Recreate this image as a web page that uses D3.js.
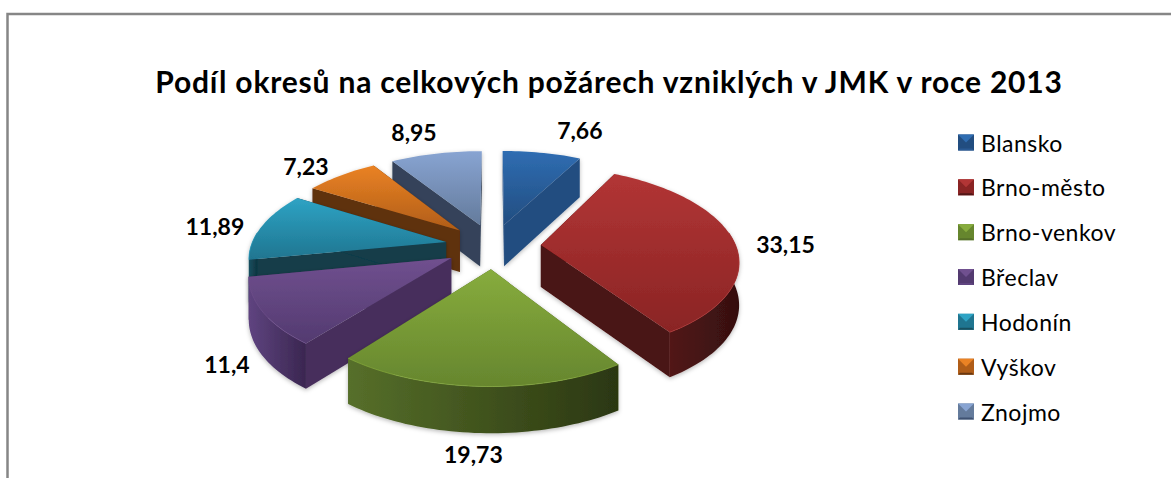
<!DOCTYPE html>
<html><head><meta charset="utf-8">
<script src="https://cdn.jsdelivr.net/npm/d3@7"></script>
<style>html,body{margin:0;padding:0;background:#fff;overflow:hidden}svg{display:block}text{font-family:Lato,Carlito,sans-serif;fill:#000}</style>
</head><body><svg id="c" width="1171" height="478"></svg>
<script>
const categories = ["Blansko","Brno-město","Brno-venkov","Břeclav","Hodonín","Vyškov","Znojmo"];
const values = [7.66,33.15,19.73,11.4,11.89,7.23,8.95];
const valueLabels = ["7,66","33,15","19,73","11,4","11,89","7,23","8,95"];
const titleText = "Podíl okresů na celkových požárech vzniklých v JMK v roce 2013";
const topLight = ["#2f6db2","#b23535","#87ac3d","#70508f","#2ea3c4","#ea8224","#88a4d2"];
const topDark  = ["#224d80","#8a2424","#66862e","#533a70","#1f7590","#b05d18","#647b9c"];
const wallFlat = ["#234d80","#4a1212","#4a5f22","#472f5c","#123c4a","#5f310e","#34435a"];
const wallA    = ["#2a5a94","#521616","#566f2a","#5f4480","#175060","#6a3810","#3f5272"];
const wallB    = ["#1c3d66","#351010","#2b3711","#3a2650","#0f3440","#4a260a","#2b384c"];
const labelShift = [[38,-23],[52,3],[-7,68],[-36,52],[-47,0],[-35,-9],[-22,-22]];

const W=1171,H=478,cx=493,cy=246,R=195,k=0.468,D=1273,explode=48,depth=42;
const svg=d3.select("#c"), defs=svg.append("defs");

const color=d3.scaleOrdinal().domain(categories).range(topLight);
const pieGen=d3.pie().sort(null).value(d=>d)(values);
const line=d3.line();
const f=defs.append("filter").attr("id","sh").attr("x","-10%").attr("y","-10%").attr("width","120%").attr("height","125%");
f.append("feDropShadow").attr("dx",0).attr("dy",1.5).attr("stdDeviation",2).attr("flood-color","#000").attr("flood-opacity",0.28);

function proj(X,Z,Y){const s=D/(D-Z);return [cx+X*s, cy+Z*k*s+(Y||0)*Math.sqrt(s)];}
const slices=pieGen.map((p,i)=>{
  const m=(p.startAngle+p.endAngle)/2, ex=explode*Math.sin(m), ez=-explode*Math.cos(m);
  const n=Math.max(8,Math.round((p.endAngle-p.startAngle)*40));
  const arc=d3.range(n+1).map(j=>{const a=p.startAngle+(p.endAngle-p.startAngle)*j/n;return [ex+R*Math.sin(a),ez-R*Math.cos(a)];});
  return {i,m,ex,ez,arc};
});
const order=d3.range(slices.length).sort((a,b)=>(slices[a].ez-slices[b].ez));

function lg(id,x1,y1,x2,y2,c1,c2,units){
  const g=defs.append("linearGradient").attr("id",id).attr("x1",x1).attr("y1",y1).attr("x2",x2).attr("y2",y2);
  if(units)g.attr("gradientUnits",units);
  g.append("stop").attr("offset","0%").attr("stop-color",c1);
  g.append("stop").attr("offset","100%").attr("stop-color",c2);
}
const layer=svg.append("g");
order.forEach(idx=>{
  const s=slices[idx],i=s.i,g=layer.append("g").attr("filter","url(#sh)");
  const top=[[s.ex,s.ez],...s.arc].map(q=>proj(q[0],q[1]));
  const wall=q=>[proj(q[0],q[1]),proj(q[0],q[1],depth)];
  const radial=q=>{const a=wall([s.ex,s.ez]),b=wall(q);return [a[0],b[0],b[1],a[1]];};
  g.append("path").attr("d",line(radial(s.arc[0]))+"Z").attr("fill",wallFlat[i]);
  g.append("path").attr("d",line(radial(s.arc[s.arc.length-1]))+"Z").attr("fill",wallFlat[i]);
  const front=s.arc.filter(q=>q[1]>-30);
  if(front.length>1){
    const up=front.map(q=>proj(q[0],q[1])),dn=front.map(q=>proj(q[0],q[1],depth)).reverse();
    const xs=up.map(q=>q[0]);
    lg("w"+i,d3.min(xs),0,d3.max(xs),0,wallA[i],wallB[i],"userSpaceOnUse");
    g.append("path").attr("d",line(up.concat(dn))+"Z").attr("fill",`url(#w${i})`);
  }
  lg("t"+i,0,0,0,1,topLight[i],topDark[i]);
  g.append("path").attr("d",line(top)+"Z").attr("fill",`url(#t${i})`);
  if(front.length>1)g.append("path").attr("d",line(front.map(q=>proj(q[0],q[1])))).attr("fill","none").attr("stroke",topLight[i]).attr("stroke-width",1).attr("stroke-opacity",.7);
});

// data labels
slices.forEach(s=>{
  const p=proj(s.ex+R*Math.sin(s.m),s.ez-R*Math.cos(s.m));
  svg.append("text").attr("x",p[0]+labelShift[s.i][0]).attr("y",p[1]+labelShift[s.i][1])
    .attr("text-anchor","middle").attr("dominant-baseline","central")
    .attr("font-weight",700).attr("font-size",23).text(valueLabels[s.i]);
});

// title
svg.append("text").attr("x",609).attr("y",93).attr("text-anchor","middle")
  .attr("font-weight",700).attr("font-size",30).attr("letter-spacing",0.8).text(titleText);

// legend
const ly=d3.scalePoint().domain(categories).range([142.5,411.5]);
categories.forEach((c,i)=>{
  const y=ly(c),x0=958,sz=16,g=svg.append("g").attr("transform",`translate(${x0},${y-sz/2})`);
  const b=2;
  g.append("rect").attr("width",sz).attr("height",sz).attr("fill",topDark[i]);
  g.append("path").attr("d",line([[0,0],[sz,0],[sz/2,sz/2]])+"Z").attr("fill",color(c));
  g.append("path").attr("d",line([[0,sz],[sz,sz],[sz-b,sz-b],[b,sz-b]])+"Z").attr("fill",wallA[i]);
  svg.append("text").attr("x",981).attr("y",y).attr("dominant-baseline","central").attr("font-size",23).attr("letter-spacing",0.5).text(c);
});

// chart frame
svg.append("path").attr("d",line([[7.5,H],[7.5,14],[W,14]])).attr("fill","none").attr("stroke","#868686").attr("stroke-width",2.5);
</script></body></html>
